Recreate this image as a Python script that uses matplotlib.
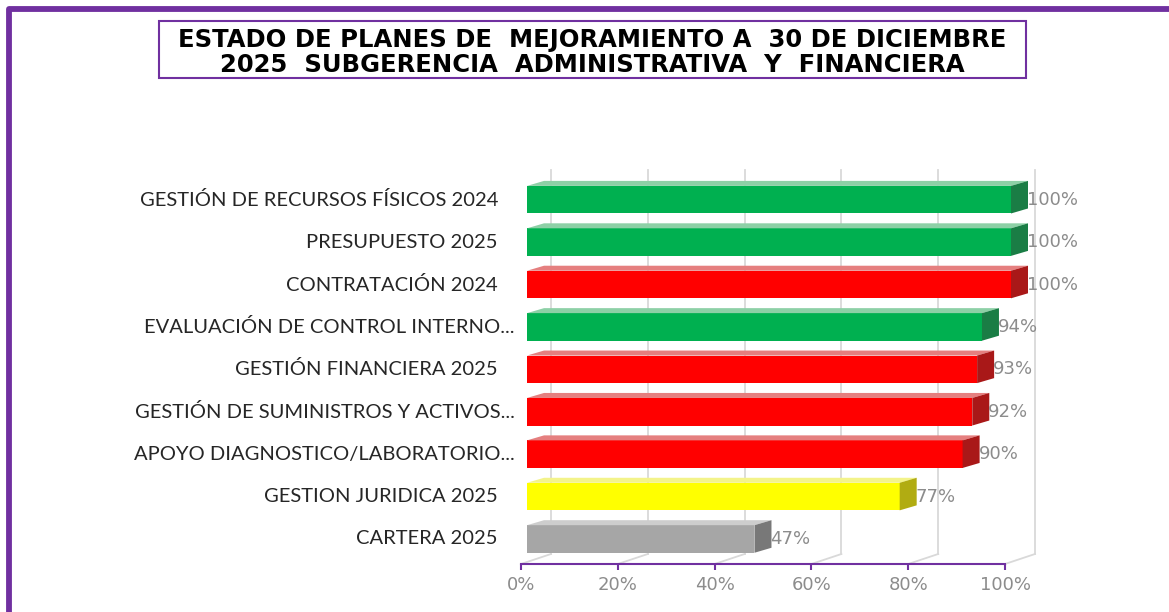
import matplotlib.pyplot as plt
from matplotlib.patches import Polygon, Rectangle
from matplotlib.lines import Line2D
from matplotlib.ticker import PercentFormatter

categories = [
    "GESTIÓN DE RECURSOS FÍSICOS 2024",
    "PRESUPUESTO 2025",
    "CONTRATACIÓN 2024",
    "EVALUACIÓN DE CONTROL INTERNO...",
    "GESTIÓN FINANCIERA 2025",
    "GESTIÓN DE SUMINISTROS Y ACTIVOS...",
    "APOYO DIAGNOSTICO/LABORATORIO...",
    "GESTION JURIDICA 2025",
    "CARTERA 2025",
]
values = [1.00, 1.00, 1.00, 0.94, 0.93, 0.92, 0.90, 0.77, 0.47]
status = ["green", "green", "red", "green", "red", "red", "red", "yellow", "gray"]

# front / top / side colours for each status
palette = {
    "green": ("#00b050", "#8dd0a6", "#1a7d45"),
    "red": ("#ff0000", "#e57f7f", "#a91818"),
    "yellow": ("#ffff00", "#f3f38a", "#b1ac12"),
    "gray": ("#a6a6a6", "#cdcdcd", "#787878"),
}
purple = "#7030a0"
label_gray = "#8c8c8c"

W, H = 1169, 612
fig = plt.figure(figsize=(W / 100, H / 100), dpi=100)

# outer border (top + left only visible)
fig.add_artist(Line2D([9 / W, 9 / W, 1.01], [-0.01, 1 - 8.5 / H, 1 - 8.5 / H],
                      transform=fig.transFigure, color=purple, lw=4.2,
                      solid_joinstyle="round"))

# title box
fig.add_artist(Rectangle((159 / W, 1 - 78 / H), (1026 - 159) / W, 57 / H,
                         transform=fig.transFigure, fill=False,
                         edgecolor=purple, lw=1.5))
fig.text(592 / W, 1 - 52.5 / H,
         "ESTADO DE PLANES DE  MEJORAMIENTO A  30 DE DICIEMBRE\n"
         "2025  SUBGERENCIA  ADMINISTRATIVA  Y  FINANCIERA",
         ha="center", va="center", fontsize=17.5, fontweight="bold",
         family="DejaVu Sans", linespacing=1.0, color="black")

ax = fig.add_axes([521 / W, 48 / H, 484 / W, 394 / H])
n = len(categories)
ys = [n - 1 - i for i in range(n)]
ymin, ymax = -0.59, 8.70
ax.set_xlim(0, 1)
ax.set_ylim(ymin, ymax)

px = 1 / 484          # data x per pixel
py = 1 / 42.4         # data y per pixel
fx = 6 * px           # bar front offset
dx, dy = 17 * px, 5 * py   # bar depth
bx, by = 30 * px, 10 * py  # back wall offset
bh = 0.65

ticks = [0, 0.2, 0.4, 0.6, 0.8, 1.0]
grid_c = "#d9d9d9"
for t in ticks:
    ax.plot([t + bx, t + bx], [ymin + by, ymax], color=grid_c, lw=1.3,
            clip_on=False, zorder=1)
    ax.plot([t, t + bx], [ymin, ymin + by], color=grid_c, lw=1.3,
            clip_on=False, zorder=1)

for y, v, s in zip(ys, values, status):
    front, top, side = palette[s]
    yb, yt = y - bh / 2, y + bh / 2
    ax.add_patch(Rectangle((fx, yb), v, bh, facecolor=front,
                           edgecolor="none", zorder=3, clip_on=False))
    ax.add_patch(Polygon([(fx, yt), (fx + v, yt), (fx + v + dx, yt + dy),
                          (fx + dx, yt + dy)], closed=True, facecolor=top,
                         edgecolor="none", zorder=3, clip_on=False))
    ax.add_patch(Polygon([(fx + v, yb), (fx + v, yt), (fx + v + dx, yt + dy),
                          (fx + v + dx, yb + dy)], closed=True, facecolor=side,
                         edgecolor="none", zorder=3, clip_on=False))
    ax.text(fx + v + dx - 1 * px, y, f"{v:.0%}", ha="left", va="center",
            fontsize=13, color=label_gray, zorder=4, clip_on=False)

# category labels; truncated ones hang their ellipsis past the others
ytrans = ax.get_yaxis_transform()
for y, name in zip(ys, categories):
    xr = -23 * px if not name.endswith("...") else -6 * px
    ax.text(xr, y, name, transform=ytrans, ha="right", va="center",
            fontsize=14.5, family="Lato", color="#262626")

ax.set_yticks([])
ax.set_xticks(ticks)
ax.xaxis.set_major_formatter(PercentFormatter(1.0, decimals=0))
ax.tick_params(axis="x", direction="out", length=4, width=1.5, color=purple,
               labelcolor=label_gray, labelsize=13, pad=5)
for side_name in ["top", "right", "left"]:
    ax.spines[side_name].set_visible(False)
ax.spines["bottom"].set_color(purple)
ax.spines["bottom"].set_linewidth(1.5)
ax.set_facecolor("none")

fig.savefig("out.png", dpi=100)
